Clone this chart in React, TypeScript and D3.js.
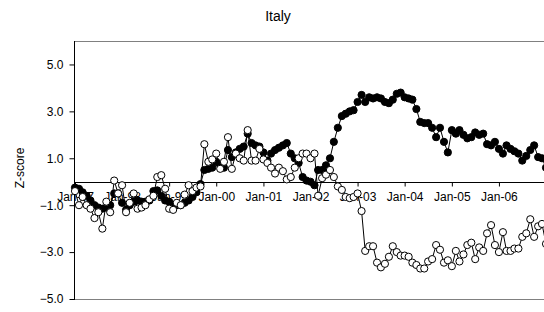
import { useEffect, useRef } from 'react';
import * as d3 from 'd3';

// monthly z-scores, Jan 1997 .. Jan 2007
const filledSeries = [
  -0.25, -0.3, -0.45, -0.6, -0.8, -1.0, -1.1, -1.15, -1.1, -1.0, -0.5, -0.5,
  -0.9, -1.2, -1.0, -0.85, -0.8, -0.85, -0.85, -0.8, -0.4, -0.37, -0.6, -0.8,
  -0.85, -1.0, -1.0, -1.0, -0.9, -0.8, -0.65, -0.45, -0.1, 0.5, 0.55, 0.6,
  0.85, 0.7, 0.6, 1.35, 1.05, 1.25, 1.4, 1.5, 2.05, 1.65, 1.55, 1.5,
  1.25, 0.9, 1.2, 1.35, 1.45, 1.55, 1.65, 1.2, 1.0, 0.8, 0.2, 0.05,
  0.0, -0.15, 0.5, 0.5, 0.7, 1.0, 1.7, 2.3, 2.8, 2.9, 3.0, 3.05,
  3.4, 3.7, 3.4, 3.6, 3.55, 3.6, 3.55, 3.4, 3.35, 3.5, 3.75, 3.8,
  3.6, 3.55, 3.5, 3.1, 2.55, 2.5, 2.5, 2.3, 1.9, 2.3, 1.7, 1.25,
  2.2, 2.05, 2.2, 2.0, 1.85, 1.9, 2.1, 2.0, 2.05, 1.6, 1.55, 1.7,
  1.4, 1.2, 1.55, 1.4, 1.3, 1.2, 0.9, 1.1, 1.35, 1.55, 1.05, 1.0,
  0.6,
];

const openSeries = [
  -0.4, -1.0, -0.65, -1.0, -1.15, -1.55, -1.3, -2.0, -0.85, -1.3, 0.05, -0.5,
  -0.15, -1.3, -0.9, -0.5, -1.15, -1.1, -1.0, -0.75, -0.6, 0.2, 0.28, -0.3,
  -1.15, -1.2, -0.9, -1.0, -0.55, -0.15, -0.4, -0.25, -0.2, 1.6, 0.85, 0.95,
  1.2, 0.55, 0.85, 1.9, 0.55, 1.2, 1.0, 0.9, 2.2, 0.9, 0.9, 1.4,
  0.95, 0.8, 0.6, 0.35, 0.6, 0.45, 0.1, 0.2, 0.6, 1.0, 1.2, 1.2,
  1.0, 1.2, -0.6, 0.15, 0.3, 0.5, 0.2, -0.2, -0.35, -0.65, -0.7, -0.65,
  -0.5, -1.25, -2.95, -2.75, -2.75, -3.45, -3.65, -3.5, -3.2, -2.75, -3.0, -3.15,
  -3.15, -3.2, -3.45, -3.55, -3.7, -3.7, -3.4, -3.3, -2.7, -2.9, -3.45, -3.35,
  -3.6, -2.95, -3.4, -3.1, -2.7, -2.6, -3.3, -2.8, -2.95, -2.2, -1.85, -2.7,
  -3.0, -2.15, -2.95, -2.95, -2.85, -2.85, -2.35, -2.2, -1.6, -2.35, -1.9, -1.8,
  -2.65,
];

const yTicks = [5, 3, 1, -1, -3, -5];
const yearTicks = d3.range(1997, 2007).map(yr => new Date(yr, 0, 1));
const months = filledSeries.map((_, i) => new Date(1997, i, 1));

export default function App() {
  const ref = useRef<SVGSVGElement>(null);

  useEffect(() => {
    const W = 544, H = 312;
    const left = 74, top = 41, bottom = 299, right = 560;
    const svg = d3.select(ref.current).attr('width', W).attr('height', H);
    svg.selectAll('*').remove();

    const x = d3.scaleTime()
      .domain([new Date(1997, 0, 1), new Date(2007, 0, 1)])
      .range([left + 1, 546]);
    const y = d3.scaleLinear().domain([-5, 6]).range([bottom, top]);
    const font = 'Arial, "Liberation Sans", sans-serif';

    svg.append('text')
      .attr('x', 278).attr('y', 21).attr('text-anchor', 'middle')
      .attr('font-family', font).attr('font-size', 14).attr('fill', '#000')
      .text('Italy');

    // frame: top and bottom in grey
    svg.append('line').attr('x1', left).attr('x2', right).attr('y1', top + 0.5).attr('y2', top + 0.5)
      .attr('stroke', '#808080');
    svg.append('line').attr('x1', left).attr('x2', right).attr('y1', bottom + 0.5).attr('y2', bottom + 0.5)
      .attr('stroke', '#808080');

    // y axis
    const yAxis = svg.append('g').attr('transform', `translate(${left + 0.5},0)`)
      .call(d3.axisLeft(y).tickValues(yTicks).tickSize(5).tickSizeOuter(0).tickFormat(d3.format('.1f')));
    yAxis.select('.domain').attr('d', `M0,${top}V${bottom + 1}`).attr('stroke', '#000');
    yAxis.selectAll('text').attr('font-family', font).attr('font-size', 12).attr('fill', '#000').attr('dx', -3);
    yAxis.selectAll('line').attr('stroke', '#000');

    svg.append('text')
      .attr('transform', `translate(24,168) rotate(-90)`)
      .attr('text-anchor', 'middle')
      .attr('font-family', font).attr('font-size', 12).attr('fill', '#000')
      .text('Z-score');

    // x axis at zero
    const xAxis = svg.append('g').attr('transform', `translate(0,${Math.round(y(0)) + 0.5})`)
      .call(d3.axisBottom(x).tickValues(yearTicks).tickSize(4).tickSizeOuter(0)
        .tickFormat((d: any) => d3.timeFormat('%b-%y')(d)));
    xAxis.select('.domain').attr('d', `M${left},0H${right}`).attr('stroke', '#000');
    xAxis.selectAll('text').attr('font-family', font).attr('font-size', 12).attr('fill', '#000').attr('dy', '0.95em');
    xAxis.selectAll('line').attr('stroke', '#000');

    const line = d3.line<number>()
      .x((_, i) => x(months[i]))
      .y(d => y(d));

    const drawSeries = (vals: number[], fill: string) => {
      svg.append('path').datum(vals).attr('d', line)
        .attr('fill', 'none').attr('stroke', '#000').attr('stroke-width', 1);
      svg.append('g').selectAll('circle').data(vals).enter().append('circle')
        .attr('cx', (_, i) => x(months[i]))
        .attr('cy', d => y(d))
        .attr('r', 3.6)
        .attr('fill', fill)
        .attr('stroke', '#000')
        .attr('stroke-width', 1);
    };

    drawSeries(filledSeries, '#000');
    drawSeries(openSeries, '#fff');
  }, []);

  return (
    <svg ref={ref} style={{ position: 'absolute', left: 0, top: 0, background: '#fff' }} />
  );
}
